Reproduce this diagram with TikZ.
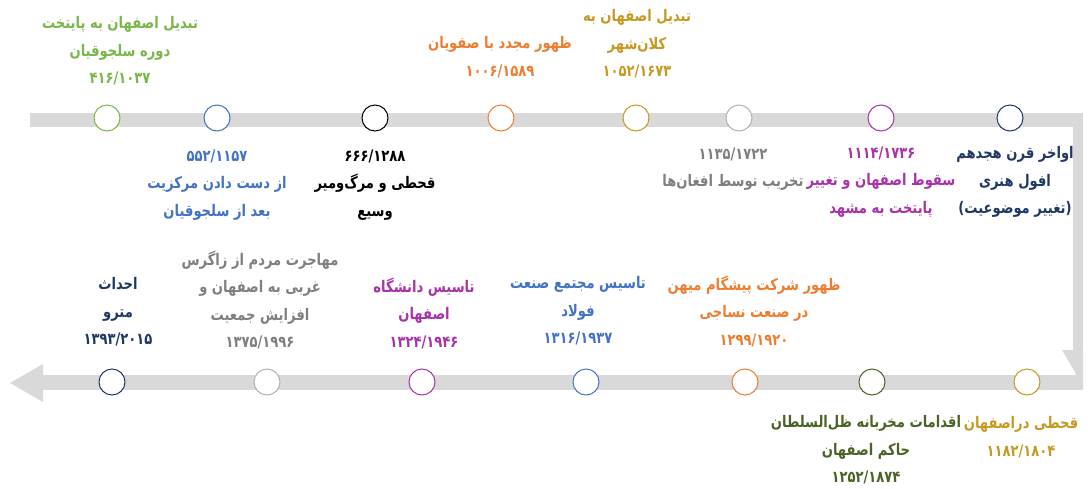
\documentclass[tikz,border=0pt]{standalone}
\usepackage{fontspec}
\newfontfamily\arabicfont[Script=Arabic,FakeStretch=0.82]{DejaVu Sans}
\TeXXeTstate=1
\definecolor{bargray}{HTML}{D9D9D9}
\definecolor{cgreen}{HTML}{7AB648}
\definecolor{corange}{HTML}{ED7D31}
\definecolor{cgold}{HTML}{C49A22}
\definecolor{cblue}{HTML}{4472C4}
\definecolor{cgray}{HTML}{7F7F7F}
\definecolor{cpurple}{HTML}{A832A8}
\definecolor{cnavy}{HTML}{1F3864}
\definecolor{cdkgreen}{HTML}{4A6426}
\newcommand{\rl}[1]{\beginR #1\endR}
\tikzset{
  event/.style={circle,draw,fill=white,line width=1pt,minimum size=26pt,inner sep=0pt},
  eventtext/.style={font=\arabicfont\bfseries\fontsize{16}{27.5}\selectfont,align=center,inner sep=0pt}
}
\begin{document}
\begin{tikzpicture}[x=1pt,y=-1pt]
  \useasboundingbox (0,0) rectangle (1088,488);
  % the two bars
  \fill[color=bargray] (30,113) rectangle (1083,127);
  \fill[color=bargray] (1073,113) rectangle (1083,351);
  \fill[color=bargray] (1062,350) -- (1083,350) -- (1083,386) -- cycle;
  \fill[color=bargray] (1083,375) rectangle (40,390);
  \fill[color=bargray] (43,364) -- (10,383) -- (43,402) -- cycle;

  % top row
  \node[event,draw=cgreen] (e1) at (107,118) {};
  \node[event,draw=cblue] (e2) at (217,118) {};
  \node[event,draw=black] (e3) at (375,118) {};
  \node[event,draw=corange] (e4) at (501,118) {};
  \node[event,draw=cgold] (e5) at (636,118) {};
  \node[event,draw=cgray!60] (e6) at (739,118) {};
  \node[event,draw=cpurple] (e7) at (881,118) {};
  \node[event,draw=cnavy] (e8) at (1010,118) {};

  \node[eventtext,text=cgreen] (t1) at (120,51)
    {\rl{تبدیل اصفهان به پایتخت}\\ \rl{دوره سلجوقیان}\\ ۴۱۶/۱۰۳۷};
  \node[eventtext,text=cblue] (t2) at (217,185)
    {۵۵۲/۱۱۵۷\\ \rl{از دست دادن مرکزیت}\\ \rl{بعد از سلجوقیان}};
  \node[eventtext,text=black] (t3) at (375,185)
    {۶۶۶/۱۲۸۸\\ \rl{قحطی و مرگ‌ومیر}\\ \rl{وسیع}};
  \node[eventtext,text=corange] (t4) at (500,57)
    {\rl{ظهور مجدد با صفویان}\\ ۱۰۰۶/۱۵۸۹};
  \node[eventtext,text=cgold] (t5) at (637,44)
    {\rl{تبدیل اصفهان به}\\ \rl{کلان‌شهر}\\ ۱۰۵۲/۱۶۷۳};
  \node[eventtext,text=cgray] (t6) at (733,169)
    {۱۱۳۵/۱۷۲۲\\ \rl{تخریب توسط افغان‌ها}};
  \node[eventtext,text=cpurple] (t7) at (881,182)
    {۱۱۱۴/۱۷۳۶\\ \rl{سقوط اصفهان و تغییر}\\ \rl{پایتخت به مشهد}};
  \node[eventtext,text=cnavy] (t8) at (1015,182)
    {\rl{اواخر قرن هجدهم}\\ \rl{افول هنری}\\ \rl{(تغییر موضوعیت)}};

  % bottom row
  \node[event,draw=cnavy] (b1) at (112,382) {};
  \node[event,draw=cgray!60] (b2) at (267,382) {};
  \node[event,draw=cpurple] (b3) at (422,382) {};
  \node[event,draw=cblue] (b4) at (586,382) {};
  \node[event,draw=corange] (b5) at (745,382) {};
  \node[event,draw=cdkgreen] (b6) at (872,382) {};
  \node[event,draw=cgold] (b7) at (1027,382) {};

  \node[eventtext,text=cnavy] (s1) at (118,312)
    {\rl{احداث}\\ \rl{مترو}\\ ۱۳۹۳/۲۰۱۵};
  \node[eventtext,text=cgray] (s2) at (260,300)
    {\rl{مهاجرت مردم از زاگرس}\\ \rl{غربی به اصفهان و}\\ \rl{افزایش جمعیت}\\ ۱۳۷۵/۱۹۹۶};
  \node[eventtext,text=cpurple] (s3) at (424,313)
    {\rl{تاسیس دانشگاه}\\ \rl{اصفهان}\\ ۱۳۲۴/۱۹۴۶};
  \node[eventtext,text=cblue] (s4) at (578,311)
    {\rl{تاسیس مجتمع صنعت}\\ \rl{فولاد}\\ ۱۳۱۶/۱۹۳۷};
  \node[eventtext,text=corange] (s5) at (754,311)
    {\rl{ظهور شرکت پیشگام میهن}\\ \rl{در صنعت نساجی}\\ ۱۲۹۹/۱۹۲۰};
  \node[eventtext,text=cdkgreen] (s6) at (866,450)
    {\rl{اقدامات مخربانه ظل‌السلطان}\\ \rl{حاکم اصفهان}\\ ۱۲۵۲/۱۸۷۴};
  \node[eventtext,text=cgold] (s7) at (1021,437)
    {\rl{قحطی دراصفهان}\\ ۱۱۸۲/۱۸۰۴};
\end{tikzpicture}
\end{document}
